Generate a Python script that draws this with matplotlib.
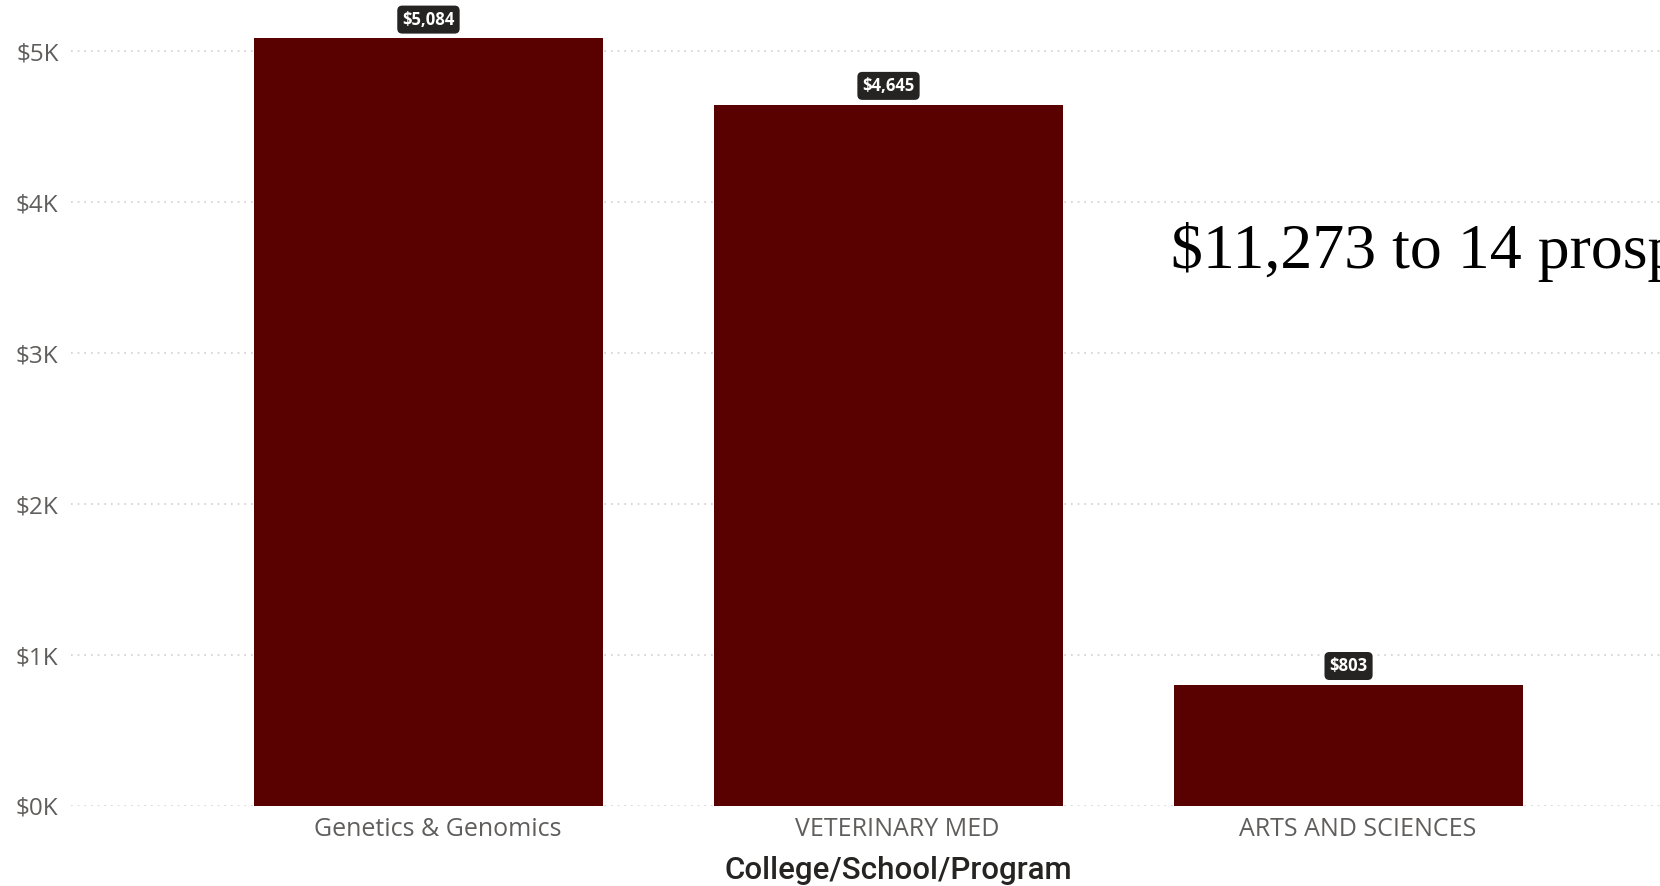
import matplotlib
matplotlib.use("Agg")
import matplotlib.pyplot as plt
import matplotlib.transforms as mtransforms
from matplotlib.ticker import FuncFormatter

# Gift totals by college / school / program
programs = ["Genetics & Genomics", "VETERINARY MED", "ARTS AND SCIENCES"]
amounts = [5084, 4645, 803]
y_ticks = [0, 1000, 2000, 3000, 4000, 5000]
headline = "$11,273 to 14 prospects"

bar_colour = "#590000"
grid_colour = "#cfcfcf"
label_colour = "#605e5c"

fig = plt.figure(figsize=(16.6, 8.86), dpi=100)
W, H = 1660, 886
ax = fig.add_axes([71 / W, (H - 806) / H, (W - 71) / W, 806 / H])

x = list(range(len(programs)))
ax.bar(x, amounts, width=0.759, color=bar_colour, zorder=2)

ax.set_xlim(-0.777, 2.677)
ax.set_ylim(0, 5338)
ax.set_yticks(y_ticks)
ax.yaxis.set_major_formatter(FuncFormatter(lambda v, p: "$%dK" % (v // 1000)))
ax.set_xticks(x)
ax.set_xticklabels(programs)

ax.grid(axis="y", linestyle=(0, (1, 3)), color=grid_colour, linewidth=1.2, zorder=0)
ax.grid(axis="x", visible=False)
for s in ax.spines.values():
    s.set_visible(False)

ax.tick_params(axis="y", length=0, pad=9, labelsize=17.5, labelcolor=label_colour)
ax.tick_params(axis="x", length=0, pad=8, labelsize=18, labelcolor=label_colour)
for lbl in ax.get_yticklabels() + ax.get_xticklabels():
    lbl.set_family("Open Sans")

# category labels sit a little right of the bar centres
shift = mtransforms.ScaledTranslation(0.09, 0, fig.dpi_scale_trans)
for lbl in ax.get_xticklabels():
    lbl.set_transform(lbl.get_transform() + shift)

ax.set_xlabel("College/School/Program", fontsize=22.5, color="#252423",
              family="Roboto", fontweight="medium")
ax.xaxis.set_label_coords(0.5205, -0.08)
ax.xaxis.label.set_va("center")

# data labels in dark rounded boxes above each bar
for xi, v in zip(x, amounts):
    ax.annotate("${:,}".format(v), (xi, v), xytext=(0, 13.5), textcoords="offset points",
                ha="center", va="center", fontsize=12, fontweight="bold",
                family="Open Sans", color="white",
                bbox=dict(boxstyle="round,pad=0.3,rounding_size=0.3",
                          fc="#252423", ec="none"), zorder=4)

fig.text(1171 / W, 1 - 268 / H, headline, family="Liberation Serif", fontsize=46,
         color="black", ha="left", va="baseline")

fig.savefig("out.png", dpi=100)
